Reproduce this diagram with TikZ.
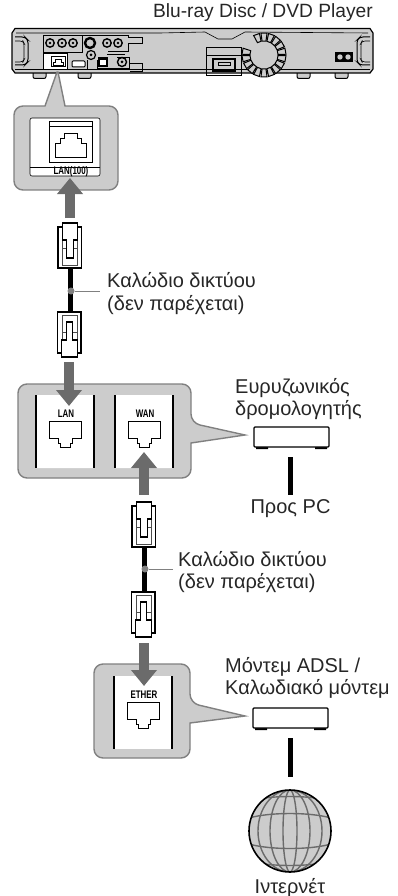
\documentclass[tikz,border=0pt]{standalone}
\usepackage{fontspec}
\setmainfont{Liberation Sans}
\usetikzlibrary{arrows.meta}
\definecolor{panelgray}{gray}{0.8}
\definecolor{edgegray}{gray}{0.5}
\definecolor{arrowgray}{gray}{0.42}
\tikzset{
	txt/.style={inner sep=0pt, font=\fontsize{20}{22.5}\selectfont, text=black!85, align=left},
	portlabel/.style={inner sep=0pt, font=\fontsize{11}{12}\bfseries\selectfont, xscale=0.72, transform shape},
	callout/.style={fill=panelgray, draw=edgegray, line width=1.4pt},
	bigarrow/.style={-{Triangle[width=25pt, length=16pt]}, line width=10pt, draw=arrowgray},
	cable/.style={line width=5pt, draw=black},
	leader/.style={line width=1pt, draw=edgegray},
	wall/.style={line width=1.2pt, draw=black},
	pics/plug/.style={code={
		\draw[line width=1.1pt, fill=white] (-12,-41) rectangle (11.5,0);
		\draw[line width=0.5pt, draw=black!70] (-7.7,-28) -- (-7.7,-3) -- (7.7,-3) -- (7.7,-28);
		\draw[line width=0.5pt, draw=black!70] (-7.7,-20) -- (-3.3,-20) (3.3,-20) -- (7.7,-20);
		\draw[line width=1.2pt, fill=white] (-7.7,-45) -- (7.7,-45) -- (7.7,-28) -- (3.3,-28) -- (3.3,-10) -- (-3.3,-10) -- (-3.3,-28) -- (-7.7,-28) -- cycle;
	}},
	pics/jack/.style={code={
		\draw[line width=0.9pt, fill=white] (-16,0) -- (16,0) -- (16,17) -- (7,17) -- (7,22) -- (5,22) -- (5,26)
			-- (-5,26) -- (-5,22) -- (-7,22) -- (-7,17) -- (-16,17) -- cycle;
	}},
	pics/settop/.style={code={
		\fill[black] (2,19) rectangle (14,22) (61,19) rectangle (73,22);
		\draw[line width=1.3pt, fill=white, rounded corners=1pt] (0,0) rectangle (75,20);
	}}
}
\begin{document}
\begin{tikzpicture}[x=1pt, y=-1pt]
  \useasboundingbox (0,0) rectangle (398,896);

  % player
  \node (title) [txt, font=\fontsize{19.2}{22}\selectfont, anchor=east] at (373,13) {Blu-ray Disc / DVD Player};
  \foreach \fx in {33,78,297,335} {
    \draw[line width=1pt, fill=panelgray, rounded corners=2pt] (\fx,70) rectangle ++(13,8.5);
  }
  \draw[line width=1.2pt, fill=panelgray] (12,33) -- (15,28.5) -- (370,28.5) -- (373,33) -- (373,69) -- (370,73) -- (15,73) -- (12,69) -- cycle;
  \draw[line width=0.6pt] (16,33) -- (160,33) -- (205,32) -- (218,39) -- (232,39) -- (245,32) -- (368,33);
  \draw[line width=0.6pt] (15,69) -- (370,69);
  \draw[line width=1pt, rounded corners=3pt] (15,37) -- (25,37) -- (28,40) -- (28,62) -- (25,65) -- (15,65);
  \draw[line width=0.6pt, rounded corners=3pt] (15,41) -- (23,41) -- (24,43) -- (24,60) -- (23,62) -- (15,62);
  \draw[line width=1pt, rounded corners=3pt] (370,37) -- (360,37) -- (357,40) -- (357,62) -- (360,65) -- (370,65);
  \draw[line width=0.6pt, rounded corners=3pt] (370,41) -- (362,41) -- (361,43) -- (361,60) -- (362,62) -- (370,62);
  \draw[line width=0.9pt] (43,35) rectangle (82,52);
  \draw[line width=0.8pt] (82,35) -- (128,35) -- (128,37) -- (142,37) -- (142,43) -- (128,43) -- (128,51) -- (108,51);
  \foreach \cx in {50,62,73,107,118} {
    \draw[line width=1.4pt] (\cx,43) circle (4.2);
    \fill[black] (\cx,43) circle (1.4);
  }
  \draw[line width=2.4pt] (90,43) circle (5);
  \draw[line width=1.2pt] (91,55) circle (4.5);
  \fill[black] (91,55) circle (1.5);
  \draw[line width=1pt, fill=white] (43,54) rectangle (67,70);
  \draw[line width=1pt] (51,57) rectangle (65,67);
  \draw[line width=0.8pt] (53,65) -- (53,62) -- (55,62) -- (55,59) -- (61,59) -- (61,62) -- (63,62) -- (63,65) -- cycle;
  \draw[line width=1pt, fill=white, rounded corners=1pt] (72,61) rectangle (85,67);
  \draw[line width=0.8pt] (87,60) -- (87,70) (97,60) -- (97,70);
  \draw[line width=0.8pt] (117,57) -- (129,57) -- (129,68) -- (97,68);
  \draw[line width=0.8pt] (107,54) -- (125,54);
  \draw[line width=0.8pt] (129,63) -- (142,63) -- (142,71) -- (130,71);
  \fill[black] (98,57) rectangle (108,67);
  \fill[white] (100,60) rectangle (106,65);
  \draw[line width=1.4pt] (122,62) circle (4.5);
  \fill[black] (122,62) circle (1.5);
  \draw[line width=0.8pt] (206,47) rectangle (241,75);
  \draw[line width=0.8pt] (206,55) -- (241,55);
  \draw[line width=1.2pt] (213,59) rectangle (235,71);
  \draw[line width=1pt] (218,63) rectangle (230,66);
  % fan
  \begin{scope}[shift={(264,55)}]
    \foreach \a in {250,270,...,550} {
      \draw[line width=1pt, fill=panelgray] (\a-8:14) -- (\a-8:22) -- (\a+8:22) -- (\a+8:14) -- cycle;
    }
  \end{scope}
  \fill[black] (335,52) rectangle (353,62);
  \fill[panelgray] (340,57) circle (2.7) (348,57) circle (2.7);

  % callout of the player
  \draw[callout] (14,140) [rounded corners=9pt] -- (14,106) [sharp corners] -- (45,106) -- (57,72) -- (58,72) -- (65,106) [rounded corners=9pt] -- (118,106) -- (118,190) -- (14,190) -- cycle;
  \fill[white, rounded corners=2pt] (30,118) rectangle (100,176);
  \draw[line width=0.6pt, rounded corners=2pt] (30,118) rectangle (100,176);
  \draw[line width=0.8pt] (30,167) -- (100,167);
  \draw[line width=1pt] (49,122) -- (92,122) -- (92,163) -- (49,163) -- cycle;
  \draw[line width=0.6pt] (49,126) -- (92,126);
  \draw[line width=0.9pt] (55,157) -- (55,143) -- (60,143) -- (60,138) -- (64,138) -- (64,133) -- (77,133) -- (77,138) -- (81,138) -- (81,143) -- (86,143) -- (86,157) -- cycle;
  \node (lan100) [portlabel] at (71,171.5) {LAN(100)};

  \coordinate (a1s) at (70,218);
  \coordinate (a1e) at (70,178);
  \draw[bigarrow] (a1s) -- (a1e);

  % first cable
  \coordinate (c1t) at (70,268);
  \coordinate (c1b) at (70,311);
  \draw[cable] (c1t) -- (c1b);
  \pic at (70,268) {plug};
  \pic [yscale=-1] at (69.5,312) {plug};
  \node (dot1) [circle, fill=edgegray, inner sep=0pt, minimum size=7pt] at (71,291) {};
  \node (cab1) [txt, anchor=west] at (107,293.5) {Καλώδιο δικτύου\\(δεν παρέχεται)};
  \draw[leader] (dot1) -- (100,291);

  \coordinate (a2s) at (69,362);
  \coordinate (a2e) at (69,406);

  % router callout
  \draw[callout] (100,384) [rounded corners=9pt] -- (191,384) -- (191,423) [sharp corners] -- (245,435) -- (191,443) [rounded corners=9pt] -- (191,478) -- (18,478) -- (18,384) -- cycle;
  \fill[white] (36,395) rectangle (94,468) (115,395) rectangle (173,468);
  \foreach \wx in {36,94,115,173} {
    \draw[wall] (\wx,395) -- (\wx,468);
  }
  \draw[bigarrow] (a2s) -- (a2e);
  \node (lan) [portlabel] at (66,414) {LAN};
  \node (wan) [portlabel] at (145,414) {WAN};
  \pic at (65,421) {jack};
  \pic at (144,421) {jack};
  \coordinate (a3s) at (144,495);
  \coordinate (a3e) at (144,452);
  \draw[bigarrow] (a3s) -- (a3e);

  \node (router) [txt, anchor=west] at (235,399) {Ευρυζωνικός\\δρομολογητής};
  \pic at (254,427) {settop};
  \coordinate (r1) at (290.5,457);
  \coordinate (r2) at (290.5,495);
  \draw[cable] (r1) -- (r2);
  \node (topc) [txt] at (290.5,509) {Προς PC};

  % second cable
  \coordinate (c2t) at (144,547);
  \coordinate (c2b) at (144,591);
  \draw[cable] (c2t) -- (c2b);
  \pic at (144,547) {plug};
  \pic [yscale=-1] at (143.5,592) {plug};
  \node (dot2) [circle, fill=edgegray, inner sep=0pt, minimum size=7pt] at (145,569) {};
  \node (cab2) [txt, anchor=west] at (178,572) {Καλώδιο δικτύου\\(δεν παρέχεται)};
  \draw[leader] (dot2) -- (173,569);

  % modem callout
  \coordinate (a4s) at (144,643);
  \coordinate (a4e) at (144,686);
  \draw[callout] (140,664) [rounded corners=9pt] -- (190,664) -- (190,703) [sharp corners] -- (245,716) -- (190,723) [rounded corners=9pt] -- (190,758) -- (94,758) -- (94,664) -- cycle;
  \fill[white] (114,676) rectangle (172,749);
  \foreach \wx in {114,172} {
    \draw[wall] (\wx,676) -- (\wx,749);
  }
  \draw[bigarrow] (a4s) -- (a4e);
  \node (ether) [portlabel] at (144,695) {ETHER};
  \pic at (143.5,702.5) {jack};

  \node (modem) [txt, anchor=west] at (225,678) {Μόντεμ ADSL /\\Καλωδιακό μόντεμ};
  \pic at (253,708) {settop};
  \coordinate (m1) at (290.5,738);
  \coordinate (m2) at (290.5,777);
  \draw[cable] (m1) -- (m2);

  % globe
  \node (globe) [circle, fill=panelgray, inner sep=0pt, minimum size=82pt] at (290,831) {};
  \begin{scope}
    \clip (290,831) circle (41);
    \foreach \rx in {7,20,32} {
      \draw[line width=1.4pt, draw=arrowgray] (290,831) ellipse (\rx pt and 41pt);
    }
    \foreach \py/\pb in {-30/-6,-13/-6,13/6,30/6} {
      \draw[line width=1.4pt, draw=arrowgray] (249,831+\py) .. controls (270,831+\py+\pb) and (310,831+\py+\pb) .. (331,831+\py);
    }
  \end{scope}
  \draw[line width=1.6pt] (290,831) circle (41);
  \node (inet) [txt] at (290,888) {Ιντερνέτ};
\end{tikzpicture}
\end{document}
